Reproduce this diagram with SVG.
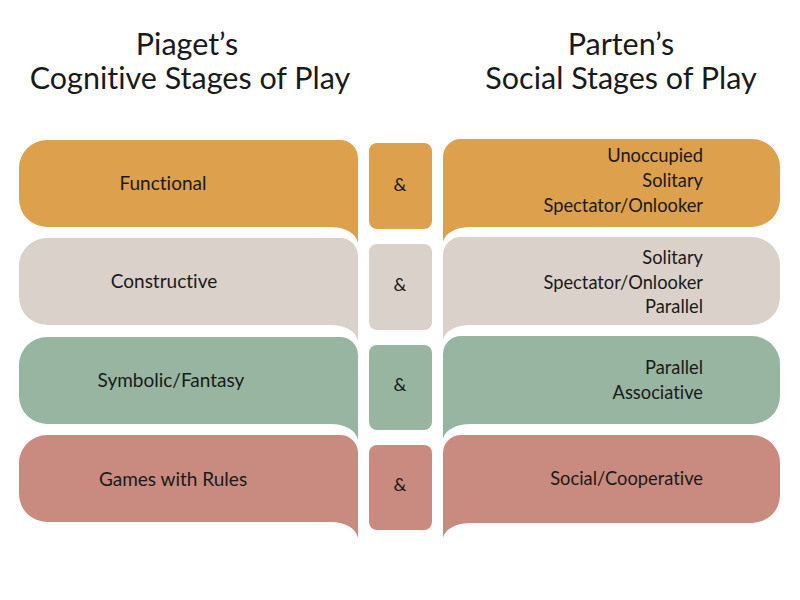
<svg xmlns="http://www.w3.org/2000/svg" xmlns:xlink="http://www.w3.org/1999/xlink" width="800" height="600" viewBox="0 0 800 600">
<style>
.t{font-family:Lato,"Open Sans","Liberation Sans",sans-serif;fill:#1a1a1a;font-variant-ligatures:none}
.title{font-size:30.5px;text-anchor:middle}
.lbl{font-size:19px;text-anchor:middle}
.rl{font-size:18.3px;text-anchor:end}
.amp{font-size:18px;text-anchor:middle}
.o{fill:#DDA04C}.g{fill:#D9D1CA}.s{fill:#97B5A1}.r{fill:#C98A7F}
</style>
<defs>
<path id="lb" d="M28,0 H321 A18,18 0 0 1 339,18 V103 C337,93 326,87 311,87 H28 A28,28 0 0 1 0,59 V28 A28,28 0 0 1 28,0 Z"/>
<path id="rb" d="M18,0 H309 A28,28 0 0 1 337,28 V60 A28,28 0 0 1 309,88 H28 C13,88 2,94 0,103 V18 A18,18 0 0 1 18,0 Z"/>
</defs>
<rect width="800" height="600" fill="#ffffff"/>
<g id="titles">
<text class="t title" x="187" y="55">Piaget’s</text>
<text class="t title" x="190" y="89">Cognitive Stages of Play</text>
<text class="t title" x="621" y="55">Parten’s</text>
<text class="t title" x="621" y="89">Social Stages of Play</text>
</g>
<g id="piaget-functional"><use xlink:href="#lb" class="o" transform="translate(19,140)"/><text class="t lbl" x="163" y="190">Functional</text></g>
<g id="amp-1"><rect class="o" x="369" y="143" width="63" height="86" rx="8"/><text class="t amp" x="400" y="191">&amp;</text></g>
<g id="parten-1"><use xlink:href="#rb" class="o" transform="translate(443,139)"/>
<text class="t rl" x="703" y="162">Unoccupied</text><text class="t rl" x="703" y="187">Solitary</text><text class="t rl" x="703" y="212">Spectator/Onlooker</text></g>

<g id="piaget-constructive"><use xlink:href="#lb" class="g" transform="translate(19,238)"/><text class="t lbl" x="164" y="288">Constructive</text></g>
<g id="amp-2"><rect class="g" x="369" y="244" width="63" height="86" rx="8"/><text class="t amp" x="400" y="291">&amp;</text></g>
<g id="parten-2"><use xlink:href="#rb" class="g" transform="translate(443,237)"/>
<text class="t rl" x="703" y="264">Solitary</text><text class="t rl" x="703" y="289">Spectator/Onlooker</text><text class="t rl" x="703" y="313">Parallel</text></g>

<g id="piaget-symbolic"><use xlink:href="#lb" class="s" transform="translate(19,337)"/><text class="t lbl" x="171" y="387">Symbolic/Fantasy</text></g>
<g id="amp-3"><rect class="s" x="369" y="345" width="63" height="85" rx="8"/><text class="t amp" x="400" y="391">&amp;</text></g>
<g id="parten-3"><use xlink:href="#rb" class="s" transform="translate(443,336)"/>
<text class="t rl" x="703" y="374">Parallel</text><text class="t rl" x="703" y="399">Associative</text></g>

<g id="piaget-games"><use xlink:href="#lb" class="r" transform="translate(19,435)"/><text class="t lbl" x="173" y="486">Games with Rules</text></g>
<g id="amp-4"><rect class="r" x="369" y="445" width="63" height="85" rx="8"/><text class="t amp" x="400" y="491">&amp;</text></g>
<g id="parten-4"><use xlink:href="#rb" class="r" transform="translate(443,435)"/>
<text class="t rl" x="703" y="485">Social/Cooperative</text></g>
<g id="connectors"/>
</svg>
